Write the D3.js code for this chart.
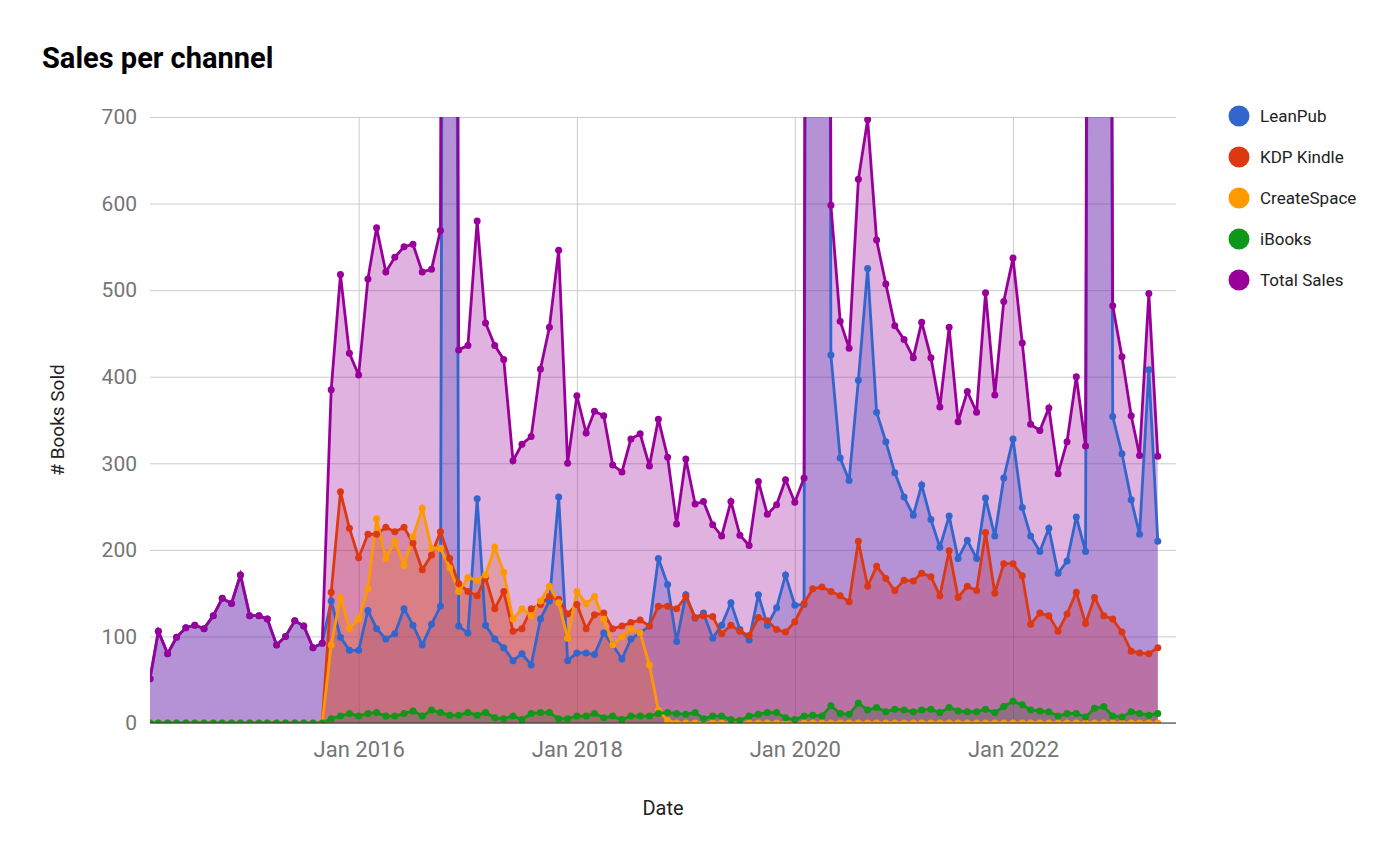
<!DOCTYPE html>
<html>
<head>
<meta charset="utf-8">
<script src="https://cdn.jsdelivr.net/npm/d3@7/dist/d3.min.js"></script>
<style>
  html, body { margin: 0; padding: 0; background: #fff; }
  svg { display: block; font-family: Roboto, "Noto Sans", Arial, sans-serif; }
</style>
</head>
<body>
<svg id="chart" width="1400" height="862"></svg>
<script>
// ---------- DATA ----------
const months = [
  "2014-02","2014-03","2014-04","2014-05","2014-06","2014-07","2014-08","2014-09","2014-10","2014-11","2014-12",
  "2015-01","2015-02","2015-03","2015-04","2015-05","2015-06","2015-07","2015-08","2015-09","2015-10","2015-11","2015-12",
  "2016-01","2016-02","2016-03","2016-04","2016-05","2016-06","2016-07","2016-08","2016-09","2016-10","2016-11","2016-12",
  "2017-01","2017-02","2017-03","2017-04","2017-05","2017-06","2017-07","2017-08","2017-09","2017-10","2017-11","2017-12",
  "2018-01","2018-02","2018-03","2018-04","2018-05","2018-06","2018-07","2018-08","2018-09","2018-10","2018-11","2018-12",
  "2019-01","2019-02","2019-03","2019-04","2019-05","2019-06","2019-07","2019-08","2019-09","2019-10","2019-11","2019-12",
  "2020-01","2020-02","2020-03","2020-04","2020-05","2020-06","2020-07","2020-08","2020-09","2020-10","2020-11","2020-12",
  "2021-01","2021-02","2021-03","2021-04","2021-05","2021-06","2021-07","2021-08","2021-09","2021-10","2021-11","2021-12",
  "2022-01","2022-02","2022-03","2022-04","2022-05","2022-06","2022-07","2022-08","2022-09","2022-10","2022-11","2022-12",
  "2023-01","2023-02","2023-03","2023-04","2023-05"
];

const leanpub = [
  51,106,80,99,110,113,109,124,144,138,171,124,124,120,90,100,118,112,87,92,
  141,99,84,84,130,109,97,103,132,113,90,114,135,
  4000,
  112,104,259,113,97,
  87,72,80,67,120,141,261,72,81,81,79,104,90,74,97,104,112,190,160,94,
  148,121,127,98,113,139,108,96,148,113,133,171,136,137,
  5000,4500,
  425,306,280,396,525,359,325,289,261,240,275,235,203,239,190,211,190,260,216,283,328,249,216,198,225,173,187,238,198,
  4000,3500,
  354,311,258,218,408,210
];

const kdpKindle = [
  0,0,0,0,0,0,0,0,0,0,0,0,0,0,0,0,0,0,0,0,
  151,267,225,191,218,218,226,221,226,208,177,194,221,190,161,152,147,168,132,
  152,106,109,132,137,146,143,126,137,109,125,127,109,112,116,119,112,135,135,132,
  146,122,124,123,103,113,106,101,122,118,108,105,117,138,155,157,152,147,140,210,
  158,181,167,153,165,164,173,169,147,199,145,158,153,220,150,184,184,170,114,127,
  124,106,126,151,115,145,124,120,105,83,81,80,87
];

const createSpace = [
  0,0,0,0,0,0,0,0,0,0,0,0,0,0,0,0,0,0,0,0,
  90,145,109,120,155,236,190,210,182,215,248,202,202,179,152,168,165,171,203,
  174,120,132,124,141,158,139,98,152,138,146,120,90,100,109,104,67,15,3,
  0,0,0,0,0,0,0,0,0,0,0,0,0,0,0,0,0,0,0,0,0,0,0,0,0,0,0,
  0,0,0,0,0,0,0,0,0,0,0,0,0,0,0,0,0,0,0,0,0,0,0,0,0,0,0
];

const iBooks = [
  0,0,0,0,0,0,0,0,0,0,0,0,0,0,0,0,0,0,0,0,
  5,8,11,8,11,12,8,8,11,14,8,15,12,9,9,12,9,12,6,
  5,8,4,11,12,12,5,5,8,8,11,6,8,4,8,8,8,11,12,11,
  10,12,5,8,8,4,3,8,10,12,12,6,4,8,9,8,20,11,10,23,
  15,18,13,16,15,13,15,16,12,18,14,13,13,16,12,19,25,21,15,14,
  13,8,11,11,7,17,19,8,7,13,11,9,11
];

const totalSales = [
  51,106,80,99,110,113,109,124,144,138,171,124,124,120,90,100,118,112,87,92,
  385,518,427,402,513,572,521,538,550,553,521,524,569,
  4378,
  431,436,580,462,436,
  420,303,322,331,409,457,546,300,378,335,360,355,298,290,328,334,297,351,307,230,
  305,253,256,229,216,256,217,205,279,241,252,281,255,283,
  5164,4665,
  598,464,433,628,697,558,507,459,443,422,463,422,365,457,348,383,359,497,379,487,537,439,345,338,364,288,325,400,320,
  4162,3643,
  482,423,355,309,496,308
];

const seriesNames = ["LeanPub", "KDP Kindle", "CreateSpace", "iBooks", "Total Sales"];
const seriesColors = ["#3366cc", "#dc3912", "#ff9900", "#109618", "#990099"];
const seriesValues = [leanpub, kdpKindle, createSpace, iBooks, totalSales];

const yTicks = [0, 100, 200, 300, 400, 500, 600, 700];
const xTickDates = ["2016-01", "2018-01", "2020-01", "2022-01"];
const xDomain = ["2014-02", "2023-07"];

const chartTitle = "Sales per channel";
const xTitle = "Date";
const yTitle = "# Books Sold";

// ---------- LAYOUT ----------
const plot = { left: 150, right: 1176, top: 117, bottom: 723 };
const parse = d3.timeParse("%Y-%m");
const dates = months.map(parse);
const FONT = "Roboto, 'Noto Sans', Arial, sans-serif";

const svg = d3.select("#chart");

const x = d3.scaleTime()
  .domain(xDomain.map(parse))
  .range([plot.left, plot.right]);
const y = d3.scaleLinear()
  .domain([0, 700])
  .range([plot.bottom, plot.top]);

// clip
svg.append("defs").append("clipPath").attr("id", "plotClip")
  .append("rect")
  .attr("x", plot.left).attr("y", plot.top)
  .attr("width", plot.right - plot.left)
  .attr("height", plot.bottom - plot.top);

// title
svg.append("text")
  .attr("x", 42).attr("y", 68)
  .attr("font-size", 29).attr("font-weight", "bold").attr("fill", "#000")
  .text(chartTitle);

// horizontal gridlines + y labels via axis
const yAxis = d3.axisLeft(y).tickValues(yTicks).tickSize(-(plot.right - plot.left)).tickPadding(13);
const gy = svg.append("g").attr("transform", `translate(${plot.left},0)`).call(yAxis);
gy.select(".domain").remove();
gy.selectAll(".tick line").attr("stroke", "#cccccc").attr("stroke-width", 1);
gy.selectAll(".tick text").attr("fill", "#757575").attr("font-size", 21).attr("font-family", FONT);

// vertical gridlines + x labels via axis
const xAxis = d3.axisBottom(x).tickValues(xTickDates.map(parse))
  .tickFormat(d3.timeFormat("%b %Y"))
  .tickSize(-(plot.bottom - plot.top)).tickPadding(18);
const gx = svg.append("g").attr("transform", `translate(0,${plot.bottom})`).call(xAxis);
gx.select(".domain").remove();
gx.selectAll(".tick line").attr("stroke", "#cccccc").attr("stroke-width", 1);
gx.selectAll(".tick text").attr("fill", "#757575").attr("font-size", 22).attr("font-family", FONT);

// axis titles
svg.append("text")
  .attr("x", 663).attr("y", 815)
  .attr("text-anchor", "middle")
  .attr("font-size", 20).attr("fill", "#222")
  .text(xTitle);
svg.append("text")
  .attr("transform", `translate(64,${(plot.top + plot.bottom) / 2}) rotate(-90)`)
  .attr("text-anchor", "middle")
  .attr("font-size", 19).attr("fill", "#222")
  .text(yTitle);

// series
const series = seriesNames.map((name, k) => ({
  name, color: seriesColors[k],
  points: seriesValues[k].map((v, i) => ({ date: dates[i], value: v }))
}));

const plotG = svg.append("g").attr("clip-path", "url(#plotClip)");

const area = d3.area().x(d => x(d.date)).y0(y(0)).y1(d => y(d.value));
const line = d3.line().x(d => x(d.date)).y(d => y(d.value));

plotG.selectAll("path.area").data(series).enter().append("path")
  .attr("class", "area")
  .attr("d", d => area(d.points))
  .attr("fill", d => d.color)
  .attr("fill-opacity", 0.3)
  .attr("stroke", "none");

// baseline
svg.append("line")
  .attr("x1", plot.left).attr("x2", plot.right)
  .attr("y1", y(0)).attr("y2", y(0))
  .attr("stroke", "#333").attr("stroke-width", 1);

plotG.selectAll("path.line").data(series).enter().append("path")
  .attr("class", "line")
  .attr("d", d => line(d.points))
  .attr("fill", "none")
  .attr("stroke", d => d.color)
  .attr("stroke-width", 2.8);

series.forEach(s => {
  plotG.append("g").selectAll("circle").data(s.points).enter().append("circle")
    .attr("cx", d => x(d.date))
    .attr("cy", d => y(d.value))
    .attr("r", 3.5)
    .attr("fill", s.color);
});

// legend
const legend = svg.append("g");
series.forEach((s, k) => {
  const cy = 116 + k * 41;
  legend.append("circle").attr("cx", 1239).attr("cy", cy).attr("r", 10.5).attr("fill", s.color);
  legend.append("text").attr("x", 1260).attr("y", cy).attr("dy", "0.35em")
    .attr("font-size", 17).attr("fill", "#222").text(s.name);
});
</script>
</body>
</html>
